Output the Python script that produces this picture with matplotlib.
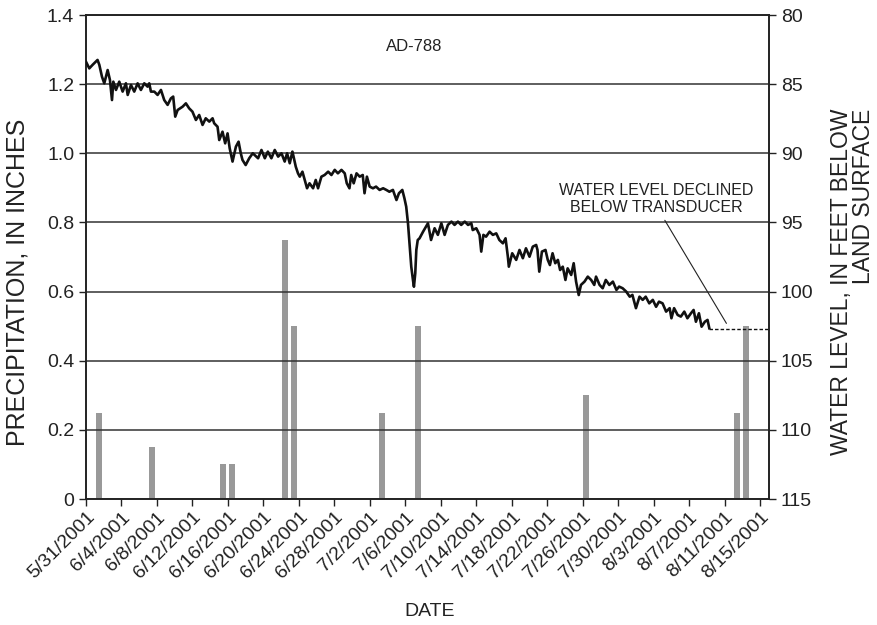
import matplotlib
matplotlib.use("Agg")
import matplotlib.pyplot as plt
import numpy as np
import pandas as pd

plt.rcParams["font.family"] = ["Liberation Sans", "DejaVu Sans"]

start = pd.Timestamp("2001-05-31")

# precipitation, inches
precip_dates = ["2001-06-01", "2001-06-07", "2001-06-15", "2001-06-16", "2001-06-22",
                "2001-06-23", "2001-07-03", "2001-07-07", "2001-07-26", "2001-08-12",
                "2001-08-13"]
precip_in = [0.25, 0.15, 0.10, 0.10, 0.75, 0.50, 0.25, 0.50, 0.30, 0.25, 0.50]

# water level, feet below land surface (days after 5/31/2001)
wl_days = [0.00, 0.37, 0.75, 1.30, 1.50, 1.80, 2.06, 2.44, 2.70, 2.93, 3.08, 3.38, 3.75,
           4.13, 4.50, 4.70, 5.07, 5.44, 5.82, 6.19, 6.57, 6.94, 7.13, 7.32, 7.70, 8.07,
           8.45, 8.82, 9.20, 9.57, 9.83, 10.06, 10.33, 10.89, 11.26, 11.63, 12.00, 12.39,
           12.76, 13.14, 13.50, 13.90, 14.27, 14.45, 14.83, 15.02, 15.39, 15.69, 15.96,
           16.20, 16.52, 16.90, 17.20, 17.45, 17.64, 18.00, 18.40, 18.80, 19.40, 19.78,
           20.16, 20.50, 20.90, 21.28, 21.66, 22.04, 22.40, 22.67, 22.97, 23.27, 23.40,
           23.65, 23.90, 24.10, 24.40, 24.66, 24.92, 25.20, 25.60, 25.90, 26.16, 26.54,
           26.90, 27.30, 27.67, 28.04, 28.40, 28.80, 29.17, 29.40, 29.70, 29.90, 30.18,
           30.50, 30.86, 31.20, 31.40, 31.67, 31.98, 32.35, 32.70, 33.10, 33.50, 33.86,
           34.20, 34.60, 35.00, 35.28, 35.66, 35.90, 36.10, 36.30, 36.50, 36.67, 36.86,
           36.97, 37.12, 37.24, 37.40, 37.60, 38.00, 38.55, 38.90, 39.30, 39.67, 40.06,
           40.43, 40.80, 41.20, 41.55, 41.93, 42.30, 42.70, 43.07, 43.44, 43.60, 44.00,
           44.37, 44.56, 44.80, 45.10, 45.50, 45.87, 46.25, 46.60, 47.00, 47.30, 47.56,
           47.67, 48.05, 48.50, 48.87, 49.25, 49.60, 50.00, 50.37, 50.75, 50.90, 51.10,
           51.40, 51.80, 52.06, 52.30, 52.60, 52.90, 53.20, 53.45, 53.75, 54.05, 54.30,
           54.70, 54.98, 55.25, 55.55, 55.80, 56.20, 56.57, 56.95, 57.30, 57.50, 57.90,
           58.25, 58.60, 59.00, 59.40, 59.80, 60.10, 60.50, 60.90, 61.30, 61.60, 62.00,
           62.40, 62.76, 63.10, 63.50, 63.90, 64.27, 64.60, 65.00, 65.40, 65.80, 66.00,
           66.30, 66.70, 67.06, 67.45, 67.80, 68.20, 68.50, 68.76, 69.10, 69.40, 69.77,
           70.07, 70.27]
wl_feet = [83.38, 83.86, 83.60, 83.25, 83.60, 84.46, 84.94, 83.98, 84.70, 86.15, 84.82,
           85.42, 84.82, 85.54, 84.94, 85.78, 85.06, 85.54, 84.94, 85.42, 84.94, 85.18,
           84.94, 85.54, 85.54, 85.78, 85.42, 86.15, 86.50, 86.03, 85.90, 87.35, 86.87,
           86.63, 86.39, 86.75, 86.99, 87.59, 87.23, 87.95, 87.47, 87.71, 87.47, 87.83,
           88.08, 89.04, 88.44, 89.28, 88.56, 89.64, 90.60, 89.52, 89.16, 90.00, 90.48,
           90.85, 90.36, 90.00, 90.36, 89.76, 90.36, 89.88, 90.36, 89.76, 90.24, 90.00,
           90.60, 90.00, 90.72, 89.88, 90.24, 90.97, 91.45, 91.69, 91.33, 91.93, 92.53,
           92.17, 92.53, 91.93, 92.53, 91.69, 91.57, 91.33, 91.57, 91.20, 91.45, 91.20,
           91.45, 92.17, 92.53, 91.57, 92.17, 91.45, 91.69, 91.57, 92.89, 91.69, 92.41,
           92.53, 92.41, 92.65, 92.53, 92.65, 92.78, 92.65, 93.38, 92.89, 92.65, 93.26,
           93.86, 95.06, 96.75, 98.20, 99.16, 99.65, 98.68, 96.99, 96.27, 96.15, 95.67,
           95.06, 96.27, 95.42, 95.90, 95.06, 95.90, 95.18, 94.94, 95.18, 94.94, 95.18,
           94.94, 95.18, 95.06, 95.55, 95.42, 95.90, 97.11, 95.90, 96.03, 95.67, 95.90,
           95.79, 96.27, 96.51, 96.15, 97.48, 98.20, 97.23, 97.71, 96.99, 97.59, 96.87,
           97.48, 96.75, 96.63, 96.99, 98.56, 97.11, 96.99, 97.71, 98.08, 97.23, 97.95,
           97.71, 98.44, 98.20, 99.16, 98.32, 98.80, 97.95, 99.28, 100.25, 99.52, 99.28,
           98.92, 99.16, 99.52, 98.92, 99.52, 99.76, 99.16, 99.52, 99.28, 99.88, 99.64,
           99.76, 100.00, 100.37, 100.24, 101.20, 100.37, 100.60, 100.37, 100.85, 100.60,
           101.10, 100.73, 100.85, 101.45, 101.20, 101.93, 101.20, 101.69, 101.81, 101.45,
           101.93, 101.57, 101.33, 102.18, 101.57, 102.54, 102.18, 102.05, 102.65]

# level after the water dropped below the transducer
below_days = [70.27, 77.0]
below_feet = [102.7, 102.7]

tick_dates = pd.date_range("2001-05-31", "2001-08-15", freq="4D")
tick_labels = [f"{d.month}/{d.day}/{d.year}" for d in tick_dates]

fig = plt.figure(figsize=(8.78, 6.25), dpi=100)
ax = fig.add_axes([86 / 878, 1 - 499 / 625, 683 / 878, 484 / 625])

bar_x = pd.to_datetime(precip_dates) + pd.Timedelta(hours=10)
ax.bar(bar_x, precip_in, width=0.68, color="#999999", zorder=2)
ax.set_ylim(0, 1.4)
ax.set_yticks(np.arange(0, 1.41, 0.2))
ax.set_yticklabels(["0", "0.2", "0.4", "0.6", "0.8", "1.0", "1.2", "1.4"])
ax.grid(axis="y", color="#333333", lw=1.1, zorder=3)
ax.set_axisbelow(False)
ax.set_xlim(start, start + pd.Timedelta(days=77))
ax.set_xticks(tick_dates)
ax.set_xticklabels(tick_labels, rotation=45, ha="right", rotation_mode="anchor")

ax2 = ax.twinx()
t = start + pd.to_timedelta(wl_days, unit="D")
ax2.plot(t, wl_feet, color="#111111", lw=1.9, zorder=4)
tb = start + pd.to_timedelta(below_days, unit="D")
ax2.plot(tb, below_feet, color="#111111", lw=1.0, ls=(0, (2.5, 1.5)))
ax2.set_ylim(115, 80)
ax2.set_yticks(np.arange(80, 116, 5))

for a in (ax, ax2):
    a.tick_params(direction="out", length=5, width=1, labelsize=14, colors="#222222")
    for s in a.spines.values():
        s.set_color("#222222")
        s.set_linewidth(1.2)
ax.tick_params(axis="x", pad=2)

ax2.annotate("WATER LEVEL DECLINED\nBELOW TRANSDUCER",
             xy=(start + pd.Timedelta(days=72.2), 102.3),
             xytext=(start + pd.Timedelta(days=64.25), 93.3),
             ha="center", va="center", fontsize=11.5, color="#222222",
             arrowprops=dict(arrowstyle="-", lw=0.8, color="#222222",
                             shrinkA=2, shrinkB=0, relpos=(0.53, 0)))

ax.text(0.48, 0.935, "AD-788", transform=ax.transAxes, ha="center", va="center",
        fontsize=12, color="#222222")

fig.text(0.020, 0.549, "PRECIPITATION, IN INCHES", rotation=90, ha="center",
         va="center", fontsize=18, color="#222222")
fig.text(0.971, 0.549, "WATER LEVEL, IN FEET BELOW\nLAND SURFACE", rotation=90,
         ha="center", va="center", multialignment="right", fontsize=16.5,
         color="#222222", linespacing=0.95)
fig.text(0.489, 0.021, "DATE", ha="center", va="center", fontsize=14, color="#222222")

fig.savefig("out.png", dpi=100)
